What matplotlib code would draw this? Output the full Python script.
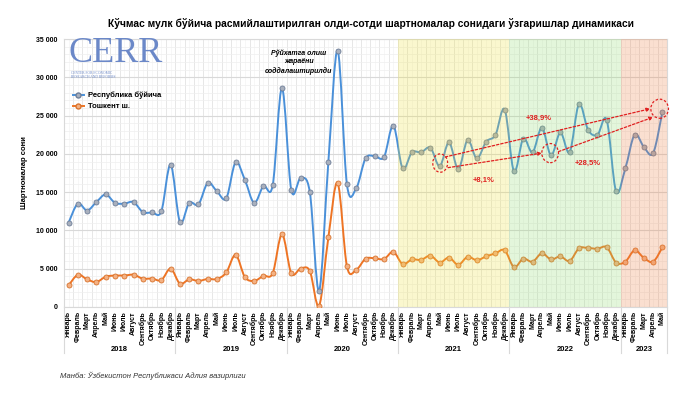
import numpy as np
import matplotlib.pyplot as plt
from matplotlib.path import Path
from matplotlib.patches import PathPatch, Ellipse
from matplotlib.transforms import blended_transform_factory

plt.rcParams['font.family'] = ['Liberation Sans', 'DejaVu Sans']

months = ["Январь", "Февраль", "Март", "Апрель", "Май", "Июнь", "Июль",
          "Август", "Сентябрь", "Октябрь", "Ноябрь", "Декабрь"]
years = ["2018", "2019", "2020", "2021", "2022", "2023"]
months_per_year = [12, 12, 12, 12, 12, 5]

# Республика бўйича
republic = [11000, 13500, 12600, 13700, 14700, 13600, 13500, 13700, 12400, 12350, 12500, 18600,
            11100, 13600, 13400, 16200, 15100, 14200, 18900, 16600, 13600, 15800, 15900, 28600,
            15300, 16800, 15000, 2100, 19000, 33500, 16000, 15500, 19400, 19700, 19600, 23700,
            18100, 20200, 20200, 20800, 18400, 21500, 18000, 21800, 19400, 21600, 22450, 25800,
            17700, 22000, 20200, 23400, 19800, 22800, 20200, 26500, 23100, 22500, 24400, 15100,
            18100, 22500, 20900, 20100, 25500]
# Тошкент ш.
tashkent = [2800, 4200, 3600, 3250, 3950, 4100, 4100, 4200, 3700, 3700, 3500, 5000,
            3050, 3600, 3400, 3650, 3650, 4500, 6800, 3900, 3400, 4050, 4400, 9500,
            4400, 5000, 4700, 150, 9100, 16200, 5300, 4850, 6300, 6350, 6250, 7200,
            5600, 6200, 6150, 6700, 5800, 6450, 5500, 6550, 6100, 6600, 7000, 7400,
            5200, 6300, 5900, 7000, 6200, 6600, 6000, 7650, 7700, 7600, 7800, 5800,
            5900, 7400, 6400, 5900, 7800]

year_shades = {"2021": "#ede133", "2022": "#8edd6b", "2023": "#ed7a3b"}


def smooth_path(x, y):
    # Excel-like smoothed line: Catmull-Rom as cubic Bezier segments
    pts = np.column_stack([x, y]).astype(float)
    verts = [pts[0]]
    codes = [Path.MOVETO]
    n = len(pts)
    for i in range(n - 1):
        p0 = pts[i - 1] if i > 0 else pts[i]
        p1 = pts[i]
        p2 = pts[i + 1]
        p3 = pts[i + 2] if i + 2 < n else pts[i + 1]
        c1 = p1 + (p2 - p0) / 6
        c2 = p2 - (p3 - p1) / 6
        verts += [c1, c2, p2]
        codes += [Path.CURVE4] * 3
    return Path(verts, codes)


fig = plt.figure(figsize=(6.8, 3.95), dpi=100)
ax = fig.add_axes([0.094, 0.223, 0.887, 0.678])

x = np.arange(len(republic))
ax.set_xlim(-0.5, len(republic) - 0.5)
ax.set_ylim(0, 35000)

# grid
ax.set_yticks(np.arange(0, 35001, 5000))
ax.set_yticks(np.arange(0, 35001, 1000), minor=True)
ax.grid(axis='y', which='major', color='#d9d9d9', lw=0.8, zorder=0)
ax.grid(axis='y', which='minor', color='#efefef', lw=0.5, zorder=0)
for b in np.arange(-0.5, len(republic), 1):
    ax.axvline(b, color='#e3e3e3', lw=0.6, zorder=0)
for b in x:
    ax.axvline(b, color='#f2f2f2', lw=0.4, zorder=0)

ax.set_yticklabels([f"{v:,}".replace(",", " ") for v in range(0, 35001, 5000)],
                   fontsize=5, fontweight='bold')
ax.tick_params(axis='y', which='both', length=0, pad=4.5)
ax.tick_params(axis='x', which='both', length=0, pad=3)

labels = []
for n in months_per_year:
    labels += months[:n]
ax.set_xticks(x)
ax.set_xticklabels(labels, rotation=90, fontsize=5, fontweight='bold', va='top')

for s in ax.spines.values():
    s.set_color('#d9d9d9')
    s.set_linewidth(0.8)

# series
blue, orange = '#4a90d9', '#ee7424'
ax.add_patch(PathPatch(smooth_path(x, republic), fill=False, ec=blue, lw=1.4, zorder=3))
ax.add_patch(PathPatch(smooth_path(x, tashkent), fill=False, ec=orange, lw=1.4, zorder=3))
ax.plot(x, republic, ls='none', marker='o', ms=3.6, mfc='#a9b0bd', mec='#6f7f99', mew=0.6, zorder=4)
ax.plot(x, tashkent, ls='none', marker='o', ms=3.6, mfc='#f4b183', mec='#d8742f', mew=0.6, zorder=4)

# legend
ax.plot([], [], color=blue, lw=1.4, marker='o', ms=3.6, mfc='#a9b0bd', mec='#6f7f99', label="Республика бўйича")
ax.plot([], [], color=orange, lw=1.4, marker='o', ms=3.6, mfc='#f4b183', mec='#d8742f', label="Тошкент ш.")
ax.legend(loc='upper left', bbox_to_anchor=(0.008, 0.818), frameon=False, borderpad=0,
          prop={'size': 5.5, 'weight': 'bold'}, handlelength=1.5, handletextpad=0.5, labelspacing=0.5)

# year shading (drawn over the lines, as in the original)
start = 0
for yr, n in zip(years, months_per_year):
    if yr in year_shades:
        ax.axvspan(start - 0.5, start + n - 0.5, color=year_shades[yr], alpha=0.24, lw=0, zorder=5)
    start += n

# multi-level category axis: year separators and labels
trans = blended_transform_factory(ax.transData, ax.transAxes)
start = 0
ax.plot([-0.5, -0.5], [0, -0.172], transform=trans, color='#d9d9d9', lw=0.8, clip_on=False)
for yr, n in zip(years, months_per_year):
    ax.plot([start + n - 0.5] * 2, [0, -0.172], transform=trans, color='#d9d9d9', lw=0.8, clip_on=False)
    ax.text(start + (n - 1) / 2, -0.16, yr, transform=trans, ha='center', va='center',
            fontsize=5.5, fontweight='bold')
    start += n

ax.set_ylabel("Шартномалар сони", fontsize=5.5, fontweight='bold', labelpad=6)

# annotations
ax.text(24.8, 32000, "Рўйхатга олиш\nжараёни\nсоддалаштирилди", ha='center', va='center',
        fontsize=5, fontweight='bold', fontstyle='italic', linespacing=1.25, zorder=6)

red = '#e02020'
for cx, cy, w, h in [(40.05, 18800, 1.6, 2400), (51.9, 20100, 1.8, 2500), (63.7, 25900, 1.9, 2500)]:
    ax.add_patch(Ellipse((cx, cy), w, h, fill=False, ec=red, ls=(0, (2, 1.5)), lw=0.9, zorder=7, clip_on=False))
arrow = dict(arrowstyle='-|>', color=red, lw=0.9, ls=(0, (2, 1.5)), mutation_scale=5, shrinkA=0, shrinkB=0)
for (x0, y0), (x1, y1) in [((40.6, 19600), (62.7, 25900)),
                           ((40.9, 18200), (51.0, 20100)),
                           ((52.8, 20300), (63.0, 24800))]:
    ax.annotate("", xy=(x1, y1), xytext=(x0, y0), arrowprops=arrow, zorder=7)
for tx, ty, s in [(50.7, 24600, "+38,9%"), (44.7, 16600, "+8,1%"), (56.0, 18800, "+28,5%")]:
    ax.text(tx, ty, s, color=red, fontsize=5.5, fontweight='bold', ha='center', va='center', zorder=7)

# logo
fig.text(0.101, 0.842, "CERR", family=['Liberation Serif', 'DejaVu Serif'], fontsize=26,
         color='#6b88c8', ha='left', va='baseline')
fig.text(0.104, 0.82, "CENTER FOR ECONOMIC\nRESEARCH AND REFORMS", family=['Liberation Serif', 'DejaVu Serif'],
         fontsize=2.6, color='#6b88c8', ha='left', va='top', linespacing=1.0)

fig.text(0.545, 0.94, "Кўчмас мулк бўйича расмийлаштирилган олди-сотди шартномалар сонидаги ўзгаришлар динамикаси",
         ha='center', va='center', fontsize=7.4, fontweight='bold')
fig.text(0.088, 0.048, "Манба: Ўзбекистон Республикаси Адлия вазирлиги", fontsize=5.5,
         fontstyle='italic', color='#333333', ha='left', va='center')

fig.savefig("out.png", dpi=100)
